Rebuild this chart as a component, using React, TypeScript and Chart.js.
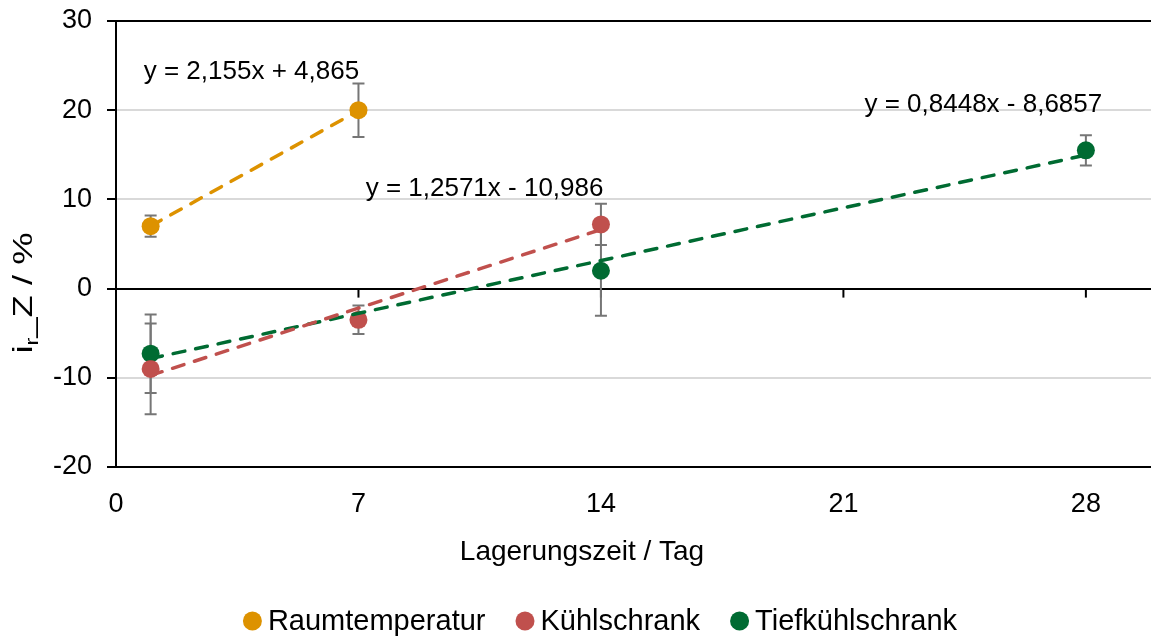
import React, { useEffect, useRef } from "react";
import { Chart, registerables } from "chart.js";
Chart.register(...registerables);

const seriesNames = ["Raumtemperatur", "Kühlschrank", "Tiefkühlschrank"];
const seriesColors = ["#DD9200", "#C0504D", "#006B32"];

const raumX = [1, 7];
const raumY = [7.0, 20.0];
const raumErr = [1.2, 3.0];

const kuehlX = [1, 7, 14];
const kuehlY = [-9.0, -3.5, 7.2];
const kuehlErr = [5.1, 1.6, 2.3];

const tiefX = [1, 14, 28];
const tiefY = [-7.3, 2.0, 15.5];
const tiefErr = [4.4, 5.05, 1.7];

const trendSlopes = [2.155, 1.2571, 0.8448];
const trendIntercepts = [4.865, -10.986, -8.6857];
const trendLabels = ["y = 2,155x + 4,865", "y = 1,2571x - 10,986", "y = 0,8448x - 8,6857"];

const xTicks = [0, 7, 14, 21, 28];
const yTicks = [-20, -10, 0, 10, 20, 30];

const xTitle = "Lagerungszeit / Tag";

const FONT = "'Liberation Sans', Arial, sans-serif";
const TICK_FS = 27;
const EQ_FS = 26;
const TITLE_FS = 28;
const LEGEND_FS = 29;

// anchor (in data units) of each equation label centre
const labelAnchors = [
  { x: 3.91, y: 24.3 },
  { x: 10.64, y: 11.2 },
  { x: 25.04, y: 20.55 },
];

const series = [
  { x: raumX, y: raumY, e: raumErr },
  { x: kuehlX, y: kuehlY, e: kuehlErr },
  { x: tiefX, y: tiefY, e: tiefErr },
];

const overlay = {
  id: "overlay",
  beforeDatasetsDraw(chart: any) {
    const { ctx, scales } = chart;
    const x = scales.x;
    const y = scales.y;
    ctx.save();
    const y0 = y.getPixelForValue(0);
    ctx.strokeStyle = "#000";
    ctx.lineWidth = 2;
    xTicks.forEach((t) => {
      if (t === 0) return;
      const px = x.getPixelForValue(t);
      ctx.beginPath();
      ctx.moveTo(px, y0);
      ctx.lineTo(px, y0 + 9);
      ctx.stroke();
    });
    ctx.strokeStyle = "#767676";
    ctx.lineWidth = 2;
    series.forEach((s) => {
      s.x.forEach((xv, i) => {
        const px = x.getPixelForValue(xv);
        const top = y.getPixelForValue(s.y[i] + s.e[i]);
        const bot = y.getPixelForValue(s.y[i] - s.e[i]);
        ctx.beginPath();
        ctx.moveTo(px, top);
        ctx.lineTo(px, bot);
        ctx.moveTo(px - 6, top);
        ctx.lineTo(px + 6, top);
        ctx.moveTo(px - 6, bot);
        ctx.lineTo(px + 6, bot);
        ctx.stroke();
      });
    });
    ctx.restore();
  },
  afterDraw(chart: any) {
    const { ctx, scales } = chart;
    const x = scales.x;
    const y = scales.y;
    ctx.save();
    ctx.fillStyle = "#000";
    ctx.font = `${EQ_FS}px ${FONT}`;
    ctx.textBaseline = "middle";
    ctx.textAlign = "center";
    trendLabels.forEach((t, i) => {
      ctx.fillText(t, x.getPixelForValue(labelAnchors[i].x), y.getPixelForValue(labelAnchors[i].y));
    });
    // x title
    ctx.font = `${TITLE_FS}px ${FONT}`;
    ctx.fillText(xTitle, 582, 552);

    // y title with subscript
    ctx.save();
    ctx.translate(22, 293);
    ctx.rotate(-Math.PI / 2);
    ctx.scale(1.3, 1);
    const subFont = `${Math.round(TITLE_FS * 0.65)}px ${FONT}`;
    const mainFont = `${TITLE_FS}px ${FONT}`;
    const parts = [
      { t: "i", f: mainFont, dy: 0 },
      { t: "r", f: subFont, dy: 6 },
      { t: "_Z / %", f: mainFont, dy: 0 },
    ];
    let total = 0;
    parts.forEach((p) => {
      ctx.font = p.f;
      total += ctx.measureText(p.t).width;
    });
    let cx = -total / 2;
    ctx.textAlign = "left";
    ctx.textBaseline = "alphabetic";
    parts.forEach((p) => {
      ctx.font = p.f;
      ctx.fillText(p.t, cx, 10 + p.dy);
      cx += ctx.measureText(p.t).width;
    });
    ctx.restore();

    // legend
    ctx.font = `${LEGEND_FS}px ${FONT}`;
    ctx.textAlign = "left";
    ctx.textBaseline = "middle";
    const r = 9.5;
    const gapMT = 6;
    const gapItems = 30;
    const widths = seriesNames.map((n) => ctx.measureText(n).width);
    const totalW = widths.reduce((a, w) => a + 2 * r + gapMT + w, 0) + gapItems * (seriesNames.length - 1);
    let lx = 600 - totalW / 2;
    const ly = 621;
    seriesNames.forEach((n, i) => {
      ctx.fillStyle = seriesColors[i];
      ctx.beginPath();
      ctx.arc(lx + r, ly, r, 0, Math.PI * 2);
      ctx.fill();
      ctx.fillStyle = "#000";
      ctx.fillText(n, lx + 2 * r + gapMT, ly + 1);
      lx += 2 * r + gapMT + widths[i] + gapItems;
    });
    ctx.restore();
  },
};

function trendData(i: number) {
  const xs = series[i].x;
  const x0 = Math.min(...xs);
  const x1 = Math.max(...xs);
  return [
    { x: x0, y: trendSlopes[i] * x0 + trendIntercepts[i] },
    { x: x1, y: trendSlopes[i] * x1 + trendIntercepts[i] },
  ];
}

export default function App() {
  const ref = useRef<HTMLCanvasElement | null>(null);
  useEffect(() => {
    if (!ref.current) return;
    const datasets: any[] = [];
    series.forEach((s, i) => {
      datasets.push({
        type: "line",
        label: seriesNames[i] + " Trend",
        data: trendData(i),
        borderColor: seriesColors[i],
        borderWidth: 3.5,
        borderDash: [12, 11],
        borderCapStyle: "round",
        pointRadius: 0,
        fill: false,
        order: 0,
      });
    });
    series.forEach((s, i) => {
      datasets.push({
        type: "scatter",
        label: seriesNames[i],
        data: s.x.map((xv, j) => ({ x: xv, y: s.y[j] })),
        backgroundColor: seriesColors[i],
        borderColor: seriesColors[i],
        borderWidth: 0,
        pointRadius: 9,
        order: 1,
      });
    });
    const chart = new Chart(ref.current, {
      type: "scatter",
      data: { datasets },
      plugins: [overlay],
      options: {
        animation: false,
        responsive: false,
        maintainAspectRatio: false,
        layout: { autoPadding: false, padding: { top: 21, right: 0, left: 0, bottom: 0 } },
        plugins: { legend: { display: false }, tooltip: { enabled: false } },
        scales: {
          x: {
            type: "linear",
            min: 0,
            max: 29.88,
            afterBuildTicks: (s: any) => {
              s.ticks = xTicks.map((v) => ({ value: v }));
            },
            afterFit: (s: any) => {
              s.height = 172;
              s.paddingLeft = 0;
              s.paddingRight = 0;
            },
            grid: { display: false, drawTicks: false },
            border: { display: false },
            ticks: {
              padding: 21,
              color: "#000",
              font: { size: TICK_FS, family: FONT },
              maxRotation: 0,
              autoSkip: false,
            },
          },
          y: {
            type: "linear",
            min: -20,
            max: 30,
            afterBuildTicks: (s: any) => {
              s.ticks = yTicks.map((v) => ({ value: v }));
            },
            afterFit: (s: any) => {
              s.width = 116;
              s.paddingTop = 0;
              s.paddingBottom = 0;
            },
            grid: {
              color: (c: any) => (c.tick && [30, 0, -20].includes(c.tick.value) ? "#000" : "#D9D9D9"),
              lineWidth: 2,
              tickColor: "#000",
              tickLength: 9,
              tickWidth: 2,
            },
            border: { display: true, color: "#000", width: 2 },
            ticks: {
              padding: 15,
              color: "#000",
              font: { size: TICK_FS, family: FONT },
              autoSkip: false,
            },
          },
        },
      },
    } as any);
    return () => chart.destroy();
  }, []);
  return (
    <div style={{ position: "absolute", left: 0, top: 0, width: 1151, height: 639, background: "#fff" }}>
      <canvas ref={ref} width={1151} height={639} style={{ width: 1151, height: 639 }} />
    </div>
  );
}
